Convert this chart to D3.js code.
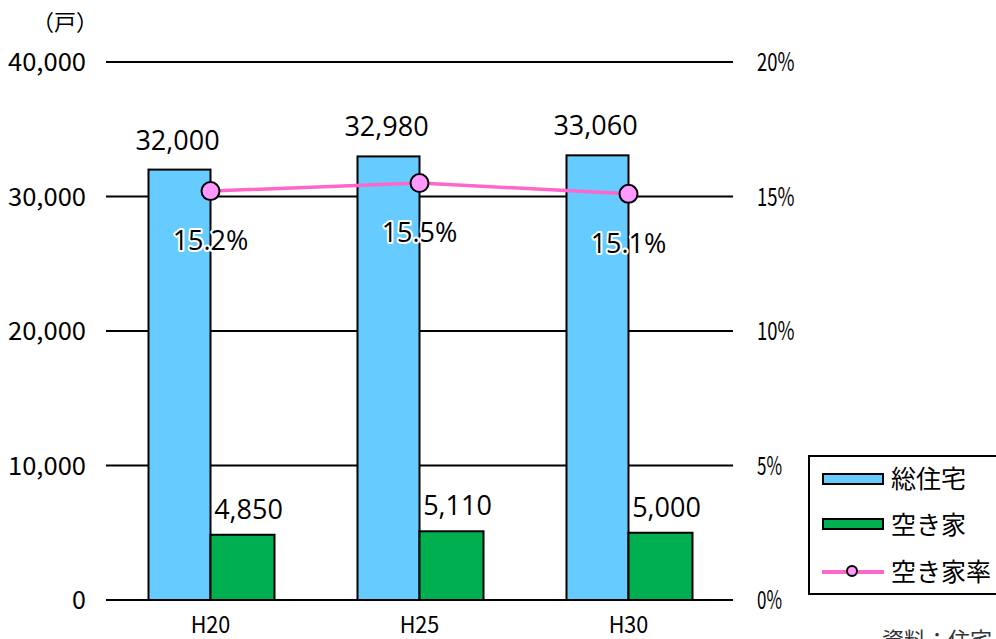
<!DOCTYPE html>
<html>
<head>
<meta charset="utf-8">
<script src="https://cdn.jsdelivr.net/npm/d3@7"></script>
<style>
  html, body { margin: 0; padding: 0; background: #fff; }
  svg { display: block; }
</style>
</head>
<body>
<svg id="chart" width="996" height="639"></svg>
<script>
// Data
const categories = ["H20", "H25", "H30"];
const totalHousing = [32000, 32980, 33060];
const vacantHouses = [4850, 5110, 5000];
const vacancyRate = [15.2, 15.5, 15.1];
const leftTicks = [0, 10000, 20000, 30000, 40000];
const leftTickLabels = ["0", "10, 000", "20, 000", "30, 000", "40, 000"];
const rightTicks = [0, 5, 10, 15, 20];
const seriesNames = ["総住宅", "空き家", "空き家率"];

const svg = d3.select("#chart");
const jpFont = "'Noto Sans CJK JP', 'Noto Sans', sans-serif";
const numFont = "'Open Sans', 'Noto Sans', sans-serif";

const plot = { left: 106, right: 733, top: 62, bottom: 600 };

const x = d3.scaleBand().domain(categories).range([plot.left, plot.right]).paddingInner(0).paddingOuter(0);
const y = d3.scaleLinear().domain([0, 40000]).range([plot.bottom, plot.top]);
const yR = d3.scaleLinear().domain([0, 20]).range([plot.bottom, plot.top]);

const barW = 62;
const center = d => x(d) + x.bandwidth() / 2;

// Condensed, fixed-pitch look for the axis labels (half-width glyphs of 0.5em)
function condense(sel, fontSize) {
  sel.each(function () {
    const t = d3.select(this);
    const n = t.text().length;
    if (n > 1) t.attr("textLength", n * fontSize * 0.5).attr("lengthAdjust", "spacingAndGlyphs");
  });
}

// Gridlines
svg.append("g").selectAll("line").data(leftTicks).join("line")
  .attr("x1", plot.left).attr("x2", plot.right)
  .attr("y1", d => y(d)).attr("y2", d => y(d))
  .attr("stroke", "#000").attr("stroke-width", 2);

// Left axis labels
const leftSize = 25;
svg.append("g").selectAll("text").data(leftTicks).join("text")
  .attr("x", 86).attr("y", d => y(d) + 9)
  .attr("text-anchor", "end")
  .attr("font-family", jpFont).attr("font-size", leftSize)
  .text((d, i) => leftTickLabels[i].replace(" ", ""))
  .call(condense, leftSize * 1.04);

// Right axis labels
const rightSize = 25;
svg.append("g").selectAll("text").data(rightTicks).join("text")
  .attr("x", 757).attr("y", d => yR(d) + 9)
  .attr("text-anchor", "start")
  .attr("font-family", jpFont).attr("font-size", rightSize)
  .text(d => d + "%")
  .call(condense, rightSize);

// Unit label
svg.append("text").attr("x", 65).attr("y", 30).attr("text-anchor", "middle")
  .attr("font-family", jpFont).attr("font-size", 22).text("（戸）");

// Category labels
const catSize = 23;
svg.append("g").selectAll("text").data(categories).join("text")
  .attr("x", d => center(d)).attr("y", 633)
  .attr("text-anchor", "middle")
  .attr("font-family", jpFont).attr("font-size", catSize)
  .text(d => d)
  .call(condense, catSize * 1.15);

// Bars: total housing
svg.append("g").selectAll("rect").data(categories).join("rect")
  .attr("x", d => center(d) - barW).attr("width", barW)
  .attr("y", (d, i) => y(totalHousing[i])).attr("height", (d, i) => y(0) - y(totalHousing[i]))
  .attr("fill", "#66ccff").attr("stroke", "#000").attr("stroke-width", 2);

// Bars: vacant houses
svg.append("g").selectAll("rect").data(categories).join("rect")
  .attr("x", d => center(d)).attr("width", barW + 2)
  .attr("y", (d, i) => y(vacantHouses[i])).attr("height", (d, i) => y(0) - y(vacantHouses[i]))
  .attr("fill", "#00b050").attr("stroke", "#000").attr("stroke-width", 2);

// Bar value labels
svg.append("g").selectAll("text").data(categories).join("text")
  .attr("x", d => center(d) - barW / 2 - 2).attr("y", (d, i) => y(totalHousing[i]) - 20)
  .attr("text-anchor", "middle").attr("font-family", numFont).attr("font-size", 27)
  .text((d, i) => d3.format(",")(totalHousing[i]));
svg.append("g").selectAll("text").data(categories).join("text")
  .attr("x", d => center(d) + barW / 2 + 7).attr("y", (d, i) => y(vacantHouses[i]) - 16)
  .attr("text-anchor", "middle").attr("font-family", numFont).attr("font-size", 27)
  .text((d, i) => d3.format(",")(vacantHouses[i]));

// Vacancy rate line
const line = d3.line().x((d, i) => center(categories[i])).y(d => yR(d));
svg.append("path").datum(vacancyRate).attr("d", line)
  .attr("fill", "none").attr("stroke", "#ff66cc").attr("stroke-width", 3.5);
svg.append("g").selectAll("circle").data(vacancyRate).join("circle")
  .attr("cx", (d, i) => center(categories[i])).attr("cy", d => yR(d)).attr("r", 9)
  .attr("fill", "#ff99ff").attr("stroke", "#000").attr("stroke-width", 2);

// Rate labels with white halo
const rateLabels = svg.append("g").selectAll("g").data(vacancyRate).join("g");
rateLabels.append("text")
  .attr("x", (d, i) => center(categories[i])).attr("y", d => yR(d) + 59)
  .attr("text-anchor", "middle").attr("font-family", numFont).attr("font-size", 27)
  .attr("stroke", "#fff").attr("stroke-width", 4).attr("stroke-linejoin", "round").attr("fill", "#fff")
  .text(d => d.toFixed(1) + "%");
rateLabels.append("text")
  .attr("x", (d, i) => center(categories[i])).attr("y", d => yR(d) + 59)
  .attr("text-anchor", "middle").attr("font-family", numFont).attr("font-size", 27)
  .attr("fill", "#000")
  .text(d => d.toFixed(1) + "%");

// Legend
const lg = svg.append("g");
lg.append("rect").attr("x", 809).attr("y", 456).attr("width", 200).attr("height", 138)
  .attr("fill", "#fff").attr("stroke", "#000").attr("stroke-width", 2);
const legendY = [479, 525, 572];
lg.append("rect").attr("x", 823).attr("y", 474).attr("width", 60).attr("height", 10)
  .attr("fill", "#66ccff").attr("stroke", "#000").attr("stroke-width", 2);
lg.append("rect").attr("x", 823).attr("y", 519).attr("width", 60).attr("height", 10)
  .attr("fill", "#00b050").attr("stroke", "#000").attr("stroke-width", 2);
lg.append("line").attr("x1", 822).attr("x2", 884).attr("y1", 572).attr("y2", 572)
  .attr("stroke", "#ff66cc").attr("stroke-width", 4);
lg.append("circle").attr("cx", 852).attr("cy", 571).attr("r", 5)
  .attr("fill", "#ff99ff").attr("stroke", "#000").attr("stroke-width", 2);
lg.selectAll("text.leg").data(seriesNames).join("text").attr("class", "leg")
  .attr("x", 891).attr("y", (d, i) => legendY[i] + 9)
  .attr("font-family", jpFont).attr("font-size", 25).text(d => d);

// Source note
svg.append("text").attr("x", 882).attr("y", 648)
  .attr("font-family", jpFont).attr("font-size", 22).attr("fill", "#333")
  .text("資料：住宅・土地統計調査");
</script>
</body>
</html>
